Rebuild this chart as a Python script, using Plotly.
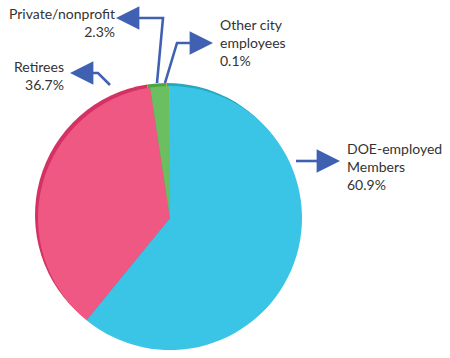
import plotly.graph_objects as go

W, H = 450, 358

labels = ["DOE-employed Members", "Retirees", "Private/nonprofit", "Other city employees"]
values = [60.9, 36.7, 2.3, 0.1]
colors = ["#3ac4e6", "#ef5882", "#6cbf60", "#e9a23e"]
rim_colors = ["#26a9bd", "#d43264", "#4ea445", "#d8862a"]
label_text = ["DOE-employed<br>Members<br>60.9%", "Retirees<br>36.7%",
              "Private/nonprofit<br>2.3%", "Other city<br>employees<br>0.1%"]

def px(x):
    return x / W

def py(y):
    return 1 - y / H

cx, cy, r = 170, 218, 132
off = 3

fig = go.Figure()
fig.add_trace(go.Pie(
    labels=labels, values=values, sort=False, direction="clockwise", rotation=0,
    marker=dict(colors=rim_colors, line=dict(width=0)), textinfo="none", hoverinfo="skip",
    domain=dict(x=[px(cx - r - off), px(cx + r - off)], y=[py(cy + r - off), py(cy - r - off)]),
    showlegend=False))
fig.add_trace(go.Pie(
    labels=labels, values=values, sort=False, direction="clockwise", rotation=0,
    marker=dict(colors=colors, line=dict(width=0)), textinfo="none",
    domain=dict(x=[px(cx - r), px(cx + r)], y=[py(cy + r), py(cy - r)]),
    showlegend=False))

arrow_color = "#4060b2"
paths = [
    [(157, 83), (163, 18), (128, 18)],
    [(165, 83), (177, 43), (200, 43)],
    [(110, 85), (98, 73), (82, 73)],
    [(296, 161), (328, 161)],
]
heads = [((116, 18), (128, 18)), ((213, 43), (200, 43)), ((70, 73), (82, 73)), ((340, 161), (328, 161))]

shapes = []
for p in paths:
    d = "M " + " L ".join(f"{px(x)},{py(y)}" for x, y in p)
    shapes.append(dict(type="path", path=d, xref="paper", yref="paper",
                       line=dict(color=arrow_color, width=2.6)))

annotations = []
for (tip, tail) in heads:
    annotations.append(dict(x=px(tip[0]), y=py(tip[1]), xref="paper", yref="paper",
                            ax=tail[0] - tip[0], ay=tail[1] - tip[1], text="",
                            showarrow=True, arrowhead=2, arrowsize=1.8, arrowwidth=2.6,
                            arrowcolor=arrow_color))

font = dict(family="Lato, Open Sans, sans-serif", size=14, color="#333333")
text_pos = [
    (345, 138, "left"),
    (66, 56, "right"),
    (117, 3, "right"),
    (218, 14, "left"),
]
for t, (x, y, al) in zip(label_text, text_pos):
    annotations.append(dict(x=px(x), y=py(y), xref="paper", yref="paper", text=t,
                            showarrow=False, xanchor=al, yanchor="top", align=al, font=font))

fig.update_layout(width=W, height=H, margin=dict(l=0, r=0, t=0, b=0),
                  paper_bgcolor="white", plot_bgcolor="white",
                  shapes=shapes, annotations=annotations, showlegend=False)
fig.write_html("out.html")
